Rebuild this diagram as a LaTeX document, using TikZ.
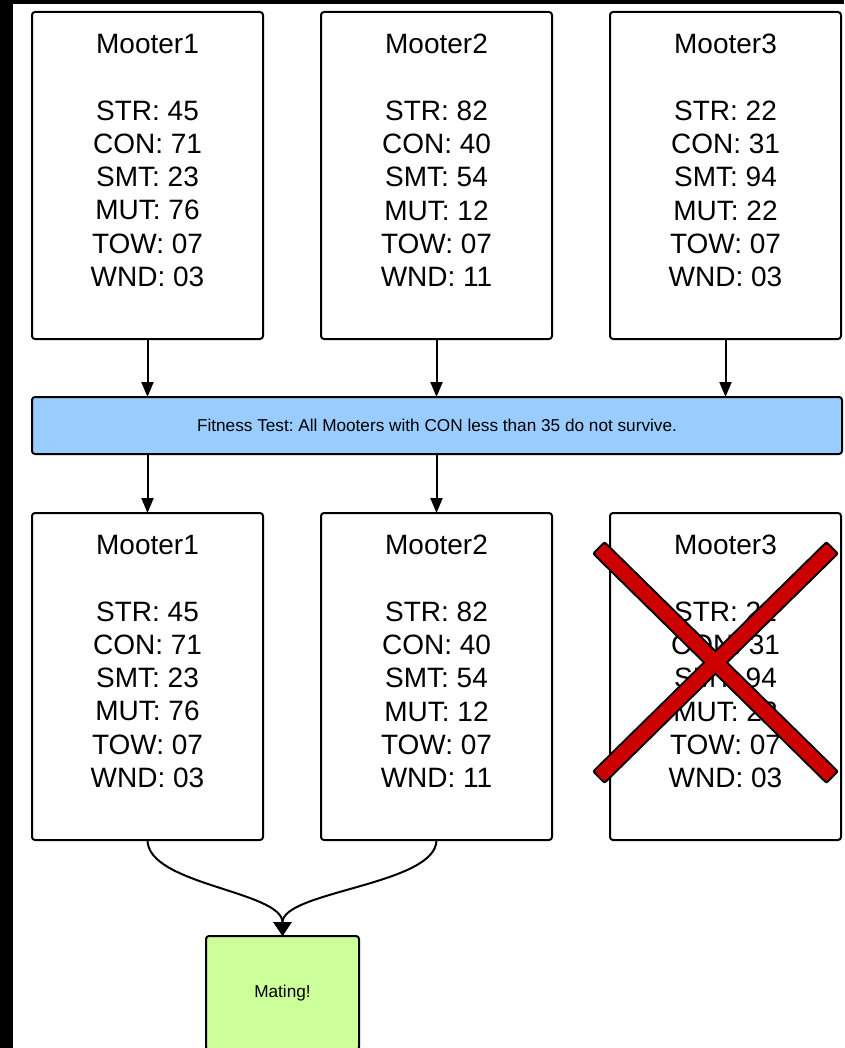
\documentclass[tikz,border=0pt]{standalone}
\usepackage{fontspec}
\setmainfont{Liberation Sans}
\frenchspacing
\usetikzlibrary{positioning,arrows.meta,calc}
\definecolor{testmodra}{HTML}{99CCFF}
\definecolor{parzelena}{HTML}{CCFF99}
\definecolor{krizcervena}{HTML}{CC0000}
\tikzset{
  mooter/.style={rectangle,draw=black,line width=2pt,rounded corners=3pt,outer sep=0pt,minimum width=231pt,minimum height=327pt,inner sep=0pt},
  stats/.style={align=center,inner sep=0pt,anchor=north,font=\fontsize{28pt}{33.3pt}\selectfont},
  fitbar/.style={rectangle,draw=black,line width=2pt,rounded corners=3pt,outer sep=0pt,fill=testmodra,minimum width=810pt,minimum height=57pt,font=\fontsize{17.2pt}{20pt}\selectfont},
  matebox/.style={rectangle,draw=black,line width=2pt,rounded corners=3pt,outer sep=0pt,fill=parzelena,minimum width=153pt,minimum height=114pt,font=\fontsize{17.2pt}{20pt}\selectfont},
  krizokraj/.style={rectangle,fill=black,rounded corners=2.5pt,minimum width=329pt,minimum height=18pt,inner sep=0pt},
  krizvypln/.style={rectangle,fill=krizcervena,rounded corners=1.5pt,minimum width=325pt,minimum height=14pt,inner sep=0pt},
  sipka/.style={-{Triangle[length=15pt,width=12pt]},line width=2pt},
  sipkaM/.style={-{Triangle[length=14pt,width=18pt]},line width=2pt},
}
\newcommand{\statsA}[1]{#1\\[33.3pt]STR: 45\\CON: 71\\SMT: 23\\MUT: 76\\TOW: 07\\WND: 03}
\newcommand{\statsB}[1]{#1\\[33.3pt]STR: 82\\CON: 40\\SMT: 54\\MUT: 12\\TOW: 07\\WND: 11}
\newcommand{\statsC}[1]{#1\\[33.3pt]STR: 22\\CON: 31\\SMT: 94\\MUT: 22\\TOW: 07\\WND: 03}

\begin{document}
\begin{tikzpicture}[x=1pt,y=1pt]
  \useasboundingbox (0,0) rectangle (844,-1048);
  \fill[black] (0,0) rectangle (12.5,-1048);
  \fill[black] (0,0) rectangle (844,-4);
  % prva generacia
  \node[mooter] (m1) at (147.5,-175.5) {};
  \node[mooter] (m2) [right=58pt of m1] {};
  \node[mooter] (m3) [right=58pt of m2] {};
  \node[stats] (m1t) at ([yshift=-22pt]m1.north) {\statsA{Mooter1}};
  \node[stats] (m2t) at ([yshift=-22pt]m2.north) {\statsB{Mooter2}};
  \node[stats] (m3t) at ([yshift=-22pt]m3.north) {\statsC{Mooter3}};
  % test
  \node[fitbar] (test) [below=58pt of m2,xshift=0.5pt] {Fitness Test: All Mooters with CON less than 35 do not survive.};
  \foreach \m in {m1,m2,m3}
    \draw[sipka] (\m.south) -- (\m.south |- test.north);
  % prezili
  \node[mooter] (n1) [below=174pt of m1] {};
  \node[mooter] (n2) [below=174pt of m2] {};
  \node[mooter] (n3) [below=174pt of m3] {};
  \node[stats] (n1t) at ([yshift=-22pt]n1.north) {\statsA{Mooter1}};
  \node[stats] (n2t) at ([yshift=-22pt]n2.north) {\statsB{Mooter2}};
  \node[stats] (n3t) at ([yshift=-22pt]n3.north) {\statsC{Mooter3}};
  \foreach \n in {n1,n2}
    \draw[sipka] (test.south -| \n.north) -- (\n.north);
  % kriz cez Mooter3
  \coordinate (kc) at ([shift={(-10,14)}]n3.center);
  \foreach \a/\k in {-44.5/a,44.5/b}
    \node[krizokraj,rotate=\a] (ko\k) at (kc) {};
  \foreach \a/\k in {-44.5/a,44.5/b}
    \node[krizvypln,rotate=\a] (kv\k) at (kc) {};
  % parenie
  \node[matebox] (mate) at (282.5,-993) {Mating!};
  \draw[sipkaM] (n1.south) .. controls +(0,-45) and +(0,45) .. (mate.north);
  \draw[sipkaM] (n2.south) .. controls +(0,-45) and +(0,45) .. (mate.north);
\end{tikzpicture}
\end{document}
